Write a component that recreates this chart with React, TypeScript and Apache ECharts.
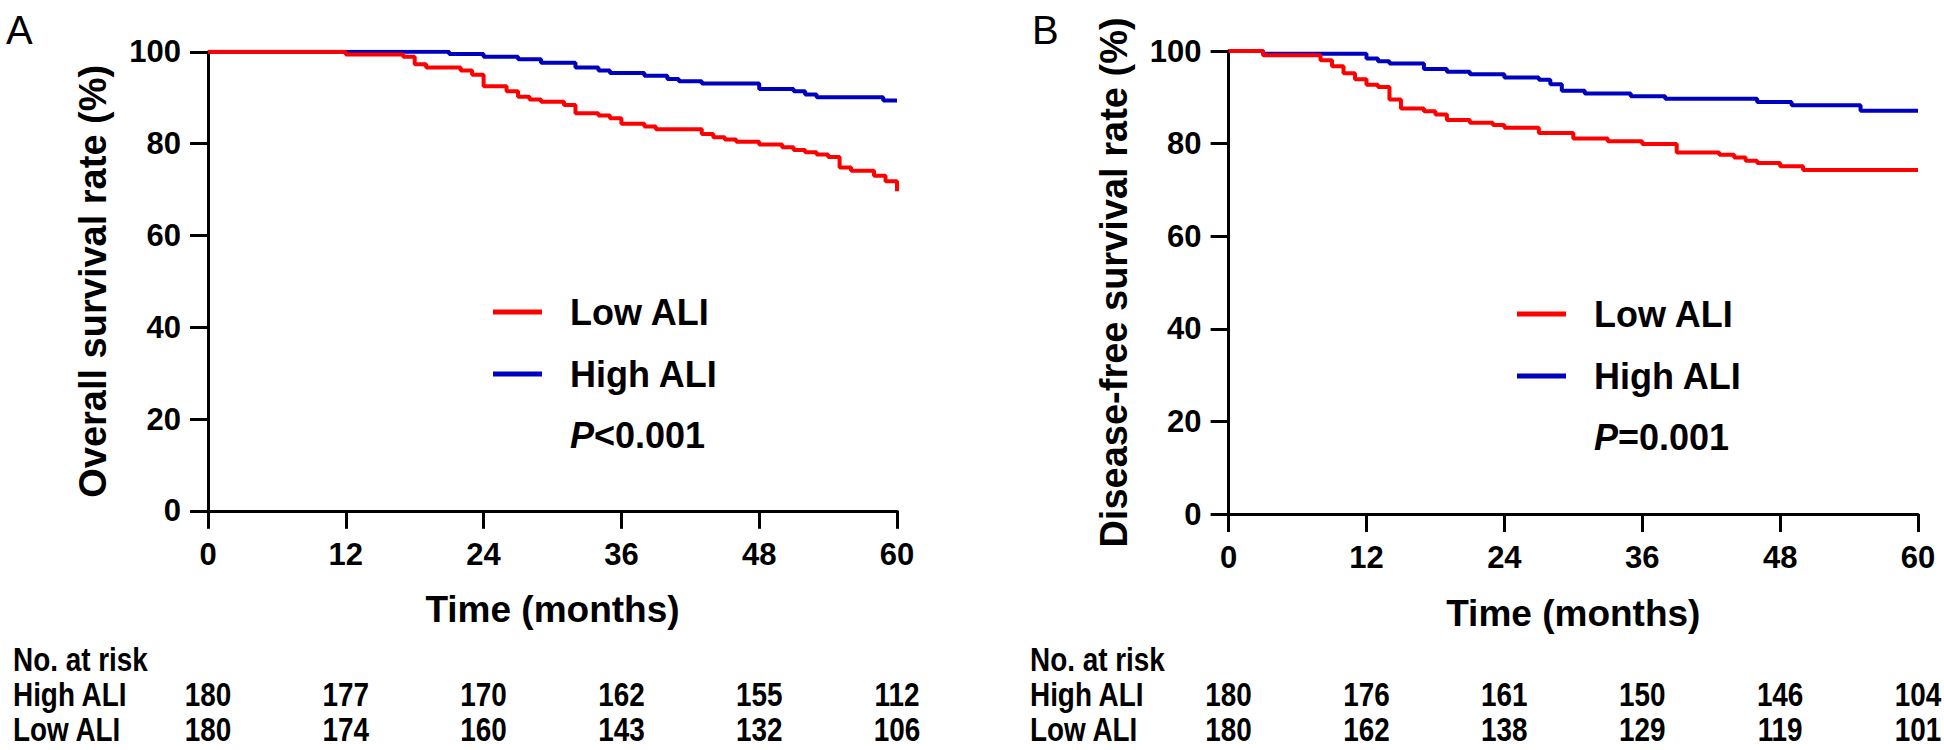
import React, { useEffect, useRef } from "react";
import * as echarts from "echarts";

// ---- data ----
const riskMonths = [0, 12, 24, 36, 48, 60];
const riskHighOS = [180, 177, 170, 162, 155, 112];
const riskLowOS = [180, 174, 160, 143, 132, 106];
const riskHighDFS = [180, 176, 161, 150, 146, 104];
const riskLowDFS = [180, 162, 138, 129, 119, 101];

// [month, survival %] – value after each drop (Kaplan–Meier steps)
const osHigh: [number, number][] = [
  [0, 100], [21, 99.5], [24, 98.9], [27, 98.4], [29, 97.6], [32, 96.6], [34, 95.9],
  [35, 95.4], [38, 94.8], [40, 94.1], [41, 93.6], [43, 93.1], [48, 91.9], [51, 91.4],
  [52, 90.7], [53, 90.1], [58.8, 89.4], [60, 89.4],
];
const osLow: [number, number][] = [
  [0, 100], [12, 99.4], [17, 98.9], [18, 97.3], [19, 96.6], [22, 95.9], [23, 95.0],
  [24, 92.5], [26, 91.4], [27, 90.2], [28, 89.6], [29, 89.1], [31, 88.4], [32, 86.6],
  [34, 86.1], [35, 85.5], [36, 84.3], [38, 83.7], [39, 83.1], [43, 82.1], [44, 81.4],
  [45, 80.9], [46, 80.4], [48, 79.8], [50, 79.2], [51, 78.6], [52, 78.1], [53, 77.6],
  [54, 77.1], [55, 74.8], [56, 74.1], [58, 73.0], [59, 71.8], [60, 69.6],
];
const dfsHigh: [number, number][] = [
  [0, 100], [3, 99.4], [12, 98.4], [13, 97.8], [14, 97.3], [17, 96.1], [19, 95.5],
  [21, 95.0], [24, 94.3], [27, 93.8], [28, 92.8], [29, 91.4], [31, 90.8], [35, 90.2],
  [38, 89.7], [46, 89.0], [49, 88.3], [55, 87.1], [60, 87.1],
];
const dfsLow: [number, number][] = [
  [0, 100], [3, 99.1], [8, 98.0], [9, 96.7], [10, 95.2], [11, 93.9], [12, 92.7],
  [13, 92.2], [14, 89.5], [15, 87.6], [17, 87.0], [18, 86.3], [19, 85.1], [21, 84.5],
  [23, 84.0], [24, 83.4], [27, 82.3], [30, 81.1], [33, 80.5], [36, 79.9], [39, 78.1],
  [42.7, 77.6], [44, 77.0], [45, 76.3], [46, 75.8], [48, 75.1], [50, 74.3], [60, 74.3],
];

const yTitles = ["Overall survival rate (%)", "Disease-free survival rate (%)"];
const pTexts = ["<0.001", "=0.001"];
const panelLetters = ["A", "B"];
const seriesNames = ["Low ALI", "High ALI"];
const riskRowLabels = ["No. at risk", "High ALI", "Low ALI"];

const RED = "#FF0000";
const BLUE = "#0000C0";
const FONT = "'Liberation Sans', Arial, Helvetica, sans-serif";

export default function App() {
  const ref = useRef<HTMLDivElement>(null);
  useEffect(() => {
    if (!ref.current) return;
    const chart = echarts.init(ref.current, null, { renderer: "svg" });

    const grids = [
      { left: 208, top: 51.8, width: 689, height: 459 },
      { left: 1228.6, top: 51, width: 689.4, height: 463 },
    ];

    const xAxes = [0, 1].map((i) => ({
      type: "value",
      gridIndex: i,
      min: 0,
      max: 60,
      interval: 12,
      axisLine: { show: true, onZero: false, lineStyle: { color: "#000", width: 3 } },
      axisTick: { show: true, length: 18, lineStyle: { color: "#000", width: 3 } },
      axisLabel: { margin: 28, fontSize: 31, fontWeight: "bold", color: "#000", fontFamily: FONT },
      splitLine: { show: false },
      name: "Time (months)",
      nameLocation: "middle",
      nameGap: 79,
      nameTextStyle: { fontSize: 37, fontWeight: "bold", color: "#000", fontFamily: FONT, lineHeight: 40 },
    }));

    const yAxes = [0, 1].map((i) => ({
      type: "value",
      gridIndex: i,
      min: 0,
      max: 100,
      interval: 20,
      axisLine: { show: true, onZero: false, lineStyle: { color: "#000", width: 3 } },
      axisTick: { show: true, length: 18, lineStyle: { color: "#000", width: 3 } },
      axisLabel: { margin: 27, fontSize: 31, fontWeight: "bold", color: "#000", fontFamily: FONT },
      splitLine: { show: false },
      name: yTitles[i],
      nameLocation: "middle",
      nameGap: 95,
      nameTextStyle: { fontSize: 38, fontWeight: "bold", color: "#000", fontFamily: FONT, lineHeight: 40 },
    }));

    const mk = (name: string, data: [number, number][], idx: number, color: string, z: number) => ({
      type: "line",
      name,
      xAxisIndex: idx,
      yAxisIndex: idx,
      data,
      step: "end",
      symbol: "none",
      z,
      lineStyle: { color, width: 4 },
      itemStyle: { color },
      emphasis: { disabled: true },
    });

    const legendCommon = {
      orient: "vertical",
      data: seriesNames,
      icon: "rect",
      itemWidth: 49,
      itemHeight: 5,
      itemGap: 26,
      padding: 0,
      selectedMode: false,
      textStyle: {
        fontSize: 36,
        fontWeight: "bold",
        color: "#000",
        fontFamily: FONT,
        lineHeight: 36,
        padding: [0, 0, 0, 23],
      },
    };

    chart.setOption({
      animation: false,
      backgroundColor: "#fff",
      grid: grids,
      xAxis: xAxes,
      yAxis: yAxes,
      legend: [
        { ...legendCommon, left: 493, top: 294 },
        { ...legendCommon, left: 1517, top: 296 },
      ],
      series: [
        mk("High ALI", osHigh, 0, BLUE, 2),
        mk("Low ALI", osLow, 0, RED, 3),
        mk("High ALI", dfsHigh, 1, BLUE, 2),
        mk("Low ALI", dfsLow, 1, RED, 3),
      ],
    });

    // graphic overlays: panel letters, P values, risk tables
    const g: any[] = [];
    const rowY = [660, 695, 730];
    const rowLabelX = [13, 1030];
    const riskRows = [
      [riskHighOS, riskLowOS],
      [riskHighDFS, riskLowDFS],
    ];
    const pPos = [
      [570, 435],
      [1594, 437],
    ];
    const letterX = [6, 1032];
    const SX = 0.82;
    const tableStyle = {
      fontSize: 34,
      fontWeight: "bold",
      fontFamily: FONT,
      lineHeight: 30,
      fill: "#000",
      verticalAlign: "middle",
      textVerticalAlign: "middle",
    };

    [0, 1].forEach((p) => {
      g.push({
        type: "text",
        x: letterX[p],
        y: 30,
        style: {
          text: panelLetters[p],
          fontSize: 40,
          fontWeight: "normal",
          fontFamily: FONT,
          fill: "#000",
          align: "left",
          textAlign: "left",
          verticalAlign: "middle",
          textVerticalAlign: "middle",
        },
      });
      g.push({
        type: "text",
        x: pPos[p][0],
        y: pPos[p][1],
        style: {
          text: `{i|P}{n|${pTexts[p]}}`,
          fill: "#000",
          align: "left",
          textAlign: "left",
          verticalAlign: "middle",
          textVerticalAlign: "middle",
          rich: {
            i: { fontStyle: "italic", fontWeight: "bold", fontSize: 36, fontFamily: FONT, fill: "#000" },
            n: { fontWeight: "bold", fontSize: 36, fontFamily: FONT, fill: "#000" },
          },
        },
      });
      riskRowLabels.forEach((t, r) => {
        g.push({
          type: "text",
          x: rowLabelX[p],
          y: rowY[r],
          scaleX: SX,
          style: { ...tableStyle, text: t, align: "left", textAlign: "left" },
        });
      });
      riskMonths.forEach((m, j) => {
        const px = chart.convertToPixel({ gridIndex: p } as any, [m, 0]) as number[];
        [0, 1].forEach((r) => {
          g.push({
            type: "text",
            x: px[0],
            y: rowY[r + 1],
            scaleX: SX,
            style: {
              ...tableStyle,
              text: String(riskRows[p][r][j]),
              align: "center",
              textAlign: "center",
            },
          });
        });
      });
    });

    chart.setOption({ graphic: g });

    return () => chart.dispose();
  }, []);

  return (
    <div
      ref={ref}
      style={{ position: "fixed", left: 0, top: 0, width: 1944, height: 750, background: "#fff" }}
    />
  );
}
